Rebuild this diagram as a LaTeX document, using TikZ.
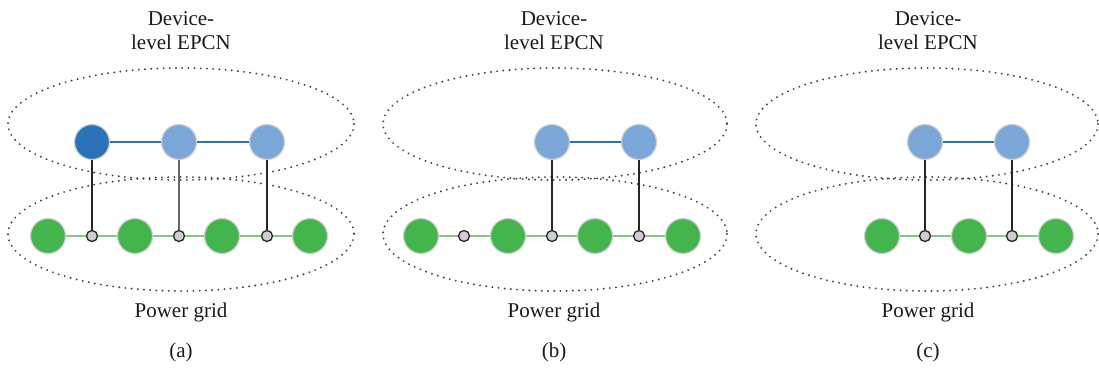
\documentclass[tikz,border=0pt]{standalone}
\usepackage{tikz}
\usepackage{fontspec}
\setmainfont{Liberation Serif}
\definecolor{epcnDark}{HTML}{2A72B8}
\definecolor{epcnLight}{HTML}{7BA7D8}
\definecolor{gridGreen}{HTML}{43B54C}
\definecolor{gridLine}{HTML}{7FCB84}
\definecolor{rimGray}{HTML}{D0D0D0}
\definecolor{jointGray}{HTML}{CFCFCF}
\tikzset{
  x=1pt, y=-1pt,
  lbl/.style={font=\fontsize{21}{24}\selectfont, align=center, text=black!90},
  devnode/.style={circle, minimum size=35pt, inner sep=0pt, draw=rimGray, line width=1.2pt, fill=epcnLight},
  devhub/.style={devnode, fill=epcnDark},
  busnode/.style={circle, minimum size=35pt, inner sep=0pt, draw=rimGray, line width=1.2pt, fill=gridGreen},
  joint/.style={circle, minimum size=11pt, inner sep=0pt, draw=black!85, line width=1.3pt, fill=jointGray},
  devlink/.style={draw=epcnDark, line width=1.4pt},
  buslink/.style={draw=gridLine, line width=1.6pt},
  tie/.style={draw=black!85, line width=1.6pt},
  layer/.style={draw=black!75, line width=2.1pt, dash pattern=on 0pt off 6.2pt, line cap=round},
}
\begin{document}
\begin{tikzpicture}
\useasboundingbox (0,0) rectangle (1099,370);

% ---------- (a) ----------
\draw[layer] (181,124) ellipse [x radius=173, y radius=56];
\draw[layer] (181,234) ellipse [x radius=173, y radius=57];
\node[lbl] (adev) at (181,31) {Device-\\level EPCN};
\node[lbl] (apg) at (181,312) {Power grid};
\node[lbl] (acap) at (181,352) {(a)};
\node[devhub] (ab1) at (92,142) {};
\node[devnode] (ab2) at (179,142) {};
\node[devnode] (ab3) at (267,142) {};
\node[busnode] (ag1) at (48,236) {};
\node[busnode] (ag2) at (135,236) {};
\node[busnode] (ag3) at (222,236) {};
\node[busnode] (ag4) at (310,236) {};
\node[joint] (aj1) at (92,236) {};
\node[joint] (aj2) at (179,236) {};
\node[joint] (aj3) at (267,236) {};
\draw[devlink] (ab1) -- (ab2) (ab2) -- (ab3);
\draw[buslink] (ag1) -- (aj1) (aj1) -- (ag2) (ag2) -- (aj2) (aj2) -- (ag3) (ag3) -- (aj3) (aj3) -- (ag4);
\draw[tie] (ab1) -- (aj1) (ab3) -- (aj3);
\draw[tie, draw=black!60] (ab2) -- (aj2);

% ---------- (b) ----------
\draw[layer] (555,124) ellipse [x radius=172, y radius=56];
\draw[layer] (555,234) ellipse [x radius=172, y radius=57];
\node[lbl] (bdev) at (554,31) {Device-\\level EPCN};
\node[lbl] (bpg) at (554,312) {Power grid};
\node[lbl] (bcap) at (554,352) {(b)};
\node[devnode] (bb1) at (552,142) {};
\node[devnode] (bb2) at (639,142) {};
\node[busnode] (bg1) at (421,236) {};
\node[busnode] (bg2) at (508,236) {};
\node[busnode] (bg3) at (595,236) {};
\node[busnode] (bg4) at (683,236) {};
\node[joint] (bj0) at (464,236) {};
\node[joint] (bj1) at (552,236) {};
\node[joint] (bj2) at (639,236) {};
\draw[devlink] (bb1) -- (bb2);
\draw[buslink] (bg1) -- (bj0) (bj0) -- (bg2) (bg2) -- (bj1) (bj1) -- (bg3) (bg3) -- (bj2) (bj2) -- (bg4);
\draw[tie] (bb1) -- (bj1) (bb2) -- (bj2);

% ---------- (c) ----------
\draw[layer] (927,124) ellipse [x radius=171, y radius=56];
\draw[layer] (927,234) ellipse [x radius=171, y radius=57];
\node[lbl] (cdev) at (928,31) {Device-\\level EPCN};
\node[lbl] (cpg) at (928,312) {Power grid};
\node[lbl] (ccap) at (928,352) {(c)};
\node[devnode] (cb1) at (925,142) {};
\node[devnode] (cb2) at (1012,142) {};
\node[busnode] (cg1) at (882,236) {};
\node[busnode] (cg2) at (969,236) {};
\node[busnode] (cg3) at (1056,236) {};
\node[joint] (cj1) at (925,236) {};
\node[joint] (cj2) at (1012,236) {};
\draw[devlink] (cb1) -- (cb2);
\draw[buslink] (cg1) -- (cj1) (cj1) -- (cg2) (cg2) -- (cj2) (cj2) -- (cg3);
\draw[tie] (cb1) -- (cj1) (cb2) -- (cj2);
\end{tikzpicture}
\end{document}
